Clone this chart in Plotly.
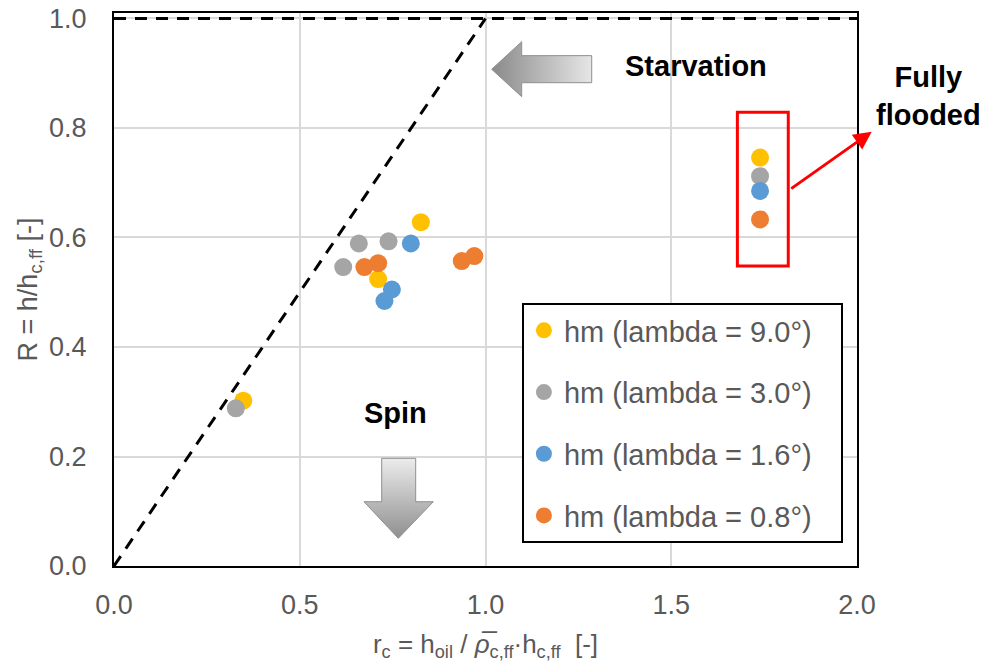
import plotly.graph_objects as go

# ---------------- data ----------------
series_names = ["hm (lambda = 9.0°)", "hm (lambda = 3.0°)", "hm (lambda = 1.6°)", "hm (lambda = 0.8°)"]
series_colors = ["#FFC000", "#A5A5A5", "#5B9BD5", "#ED7D31"]

x_l90 = [0.348, 0.711, 0.826, 1.739]
y_l90 = [0.302, 0.524, 0.628, 0.746]
x_l30 = [0.328, 0.617, 0.659, 0.739, 1.739]
y_l30 = [0.288, 0.546, 0.589, 0.593, 0.712]
x_l16 = [0.728, 0.748, 0.799, 1.739]
y_l16 = [0.484, 0.505, 0.589, 0.685]
x_l08 = [0.674, 0.711, 0.936, 0.970, 1.739]
y_l08 = [0.546, 0.553, 0.557, 0.566, 0.633]

xs = [x_l90, x_l30, x_l16, x_l08]
ys = [y_l90, y_l30, y_l16, y_l08]

x_ticks = [0.0, 0.5, 1.0, 1.5, 2.0]
y_ticks = [0.0, 0.2, 0.4, 0.6, 0.8, 1.0]

# reference lines
diag_x = [0.0, 1.0]
diag_y = [0.0, 1.0]
top_x = [0.0, 2.0]
top_y = [1.0, 1.0]

# ---------------- figure ----------------
FONT = "Liberation Sans, Arial, sans-serif"
GREY_TXT = "#595959"
LEGEND_PAD = "\u00a0\u00a0\u00a0"  # extra right padding inside the legend box

fig = go.Figure()

# decorative gradient arrows (annotations)
left_arrow_x = [1.0167, 1.0974, 1.0974, 1.2859, 1.2859, 1.0974, 1.0974, 1.0167]
left_arrow_y = [0.9072, 0.9576, 0.9321, 0.9321, 0.8827, 0.8827, 0.8572, 0.9072]
down_arrow_x = [0.7206, 0.8121, 0.8121, 0.8595, 0.7653, 0.6729, 0.7206, 0.7206]
down_arrow_y = [0.1967, 0.1967, 0.1174, 0.1174, 0.0506, 0.1174, 0.1174, 0.1967]

fig.add_trace(go.Scatter(
    x=left_arrow_x, y=left_arrow_y, mode="lines", fill="toself",
    line=dict(color="#8f8f8f", width=1),
    fillgradient=dict(type="horizontal", colorscale=[[0, "#8a8a8a"], [1, "#e6e6e6"]]),
    hoverinfo="skip", showlegend=False))
fig.add_trace(go.Scatter(
    x=down_arrow_x, y=down_arrow_y, mode="lines", fill="toself",
    line=dict(color="#8f8f8f", width=1),
    fillgradient=dict(type="vertical", colorscale=[[0, "#8f8f8f"], [1, "#ececec"]]),
    hoverinfo="skip", showlegend=False))

# dashed reference lines
fig.add_trace(go.Scatter(x=top_x, y=top_y, mode="lines",
                         line=dict(color="black", width=3, dash="12px,9px"),
                         hoverinfo="skip", showlegend=False, cliponaxis=False))
fig.add_trace(go.Scatter(x=diag_x, y=diag_y, mode="lines",
                         line=dict(color="black", width=3, dash="12px,9px"),
                         hoverinfo="skip", showlegend=False))

for i, (name, col, xv, yv) in enumerate(zip(series_names, series_colors, xs, ys)):
    fig.add_trace(go.Scatter(
        x=xv, y=yv, mode="markers", name=name + LEGEND_PAD, legendgroup=f"g{i}",
        marker=dict(color=col, size=18, line=dict(width=0)),
    ))

# red box around fully flooded points
fig.add_shape(type="rect", xref="x", yref="y", x0=1.678, x1=1.815, y0=0.548, y1=0.8287,
              line=dict(color="#FF0000", width=3), fillcolor="rgba(0,0,0,0)")

# red arrow
fig.add_annotation(xref="paper", yref="paper", x=1.0198, y=0.7854, ax=-82, ay=58,
                   axref="pixel", ayref="pixel", text="", showarrow=True,
                   arrowhead=2, arrowsize=1.2, arrowwidth=3, arrowcolor="#FF0000")

# text labels
fig.add_annotation(xref="paper", yref="paper", x=1.0956, y=0.85, text="<b>Fully<br>flooded</b>",
                   showarrow=False, font=dict(family=FONT, size=29, color="black"),
                   xanchor="center", yanchor="middle", align="center")
fig.add_annotation(xref="x", yref="y", x=1.567, y=0.913, text="<b>Starvation</b>",
                   showarrow=False, font=dict(family=FONT, size=29, color="black"))
fig.add_annotation(xref="x", yref="y", x=0.759, y=0.279, text="<b>Spin</b>",
                   showarrow=False, font=dict(family=FONT, size=29, color="black"))

# page body has an 8px default margin, so the figure is sized to fit the window
fig.update_layout(
    width=984, height=658,
    margin=dict(l=106, r=135, t=5, b=100, autoexpand=False),
    paper_bgcolor="white", plot_bgcolor="white",
    font=dict(family=FONT, color=GREY_TXT),
    legend=dict(
        x=0.549, y=0.4756, xanchor="left", yanchor="top",
        bgcolor="white", bordercolor="black", borderwidth=2,
        font=dict(family=FONT, size=29, color=GREY_TXT),
        tracegroupgap=21,
    ),
    xaxis=dict(
        range=[0, 2.0], tickvals=x_ticks, ticktext=[f"{v:.1f}" for v in x_ticks],
        showgrid=True, gridcolor="#D9D9D9", gridwidth=2,
        showline=True, linecolor="black", linewidth=2, mirror=True,
        zeroline=False, ticks="", ticklabelstandoff=14, automargin=False,
        ticklabeloverflow="allow",
        tickfont=dict(family=FONT, size=27, color=GREY_TXT),
        title=dict(text="r<sub>c</sub> = h<sub>oil</sub> / <i>ρ̅</i><sub>c,ff</sub>·h<sub>c,ff</sub>\u00a0 [-]",
                   font=dict(family=FONT, size=26, color=GREY_TXT), standoff=15),
    ),
    yaxis=dict(
        range=[0, 1.01], tickvals=y_ticks, ticktext=[f"{v:.1f}" for v in y_ticks],
        showgrid=True, gridcolor="#D9D9D9", gridwidth=2,
        showline=True, linecolor="black", linewidth=2, mirror=True,
        zeroline=False, ticks="", ticklabelstandoff=20, automargin=False,
        ticklabeloverflow="allow",
        tickfont=dict(family=FONT, size=27, color=GREY_TXT),
        title=dict(text="R = h/h<sub>c,ff</sub> [-]",
                   font=dict(family=FONT, size=27, color=GREY_TXT), standoff=4),
    ),
)

fig.write_html("out.html")
